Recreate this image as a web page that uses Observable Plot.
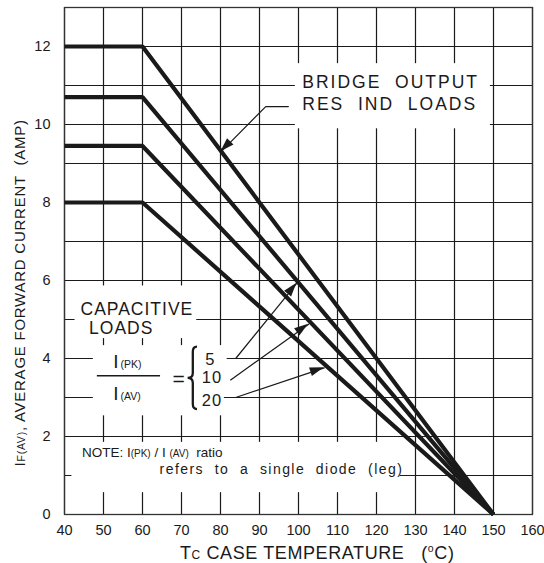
<!DOCTYPE html>
<html><head><meta charset="utf-8">
<script src="https://cdn.jsdelivr.net/npm/d3@7"></script>
<script src="https://cdn.jsdelivr.net/npm/@observablehq/plot@0.6"></script>
<style>
body{margin:0;background:#fff;}
#chart svg{display:block;}
#chart svg text{white-space:pre;}
#chart svg g[aria-label="text"] text{letter-spacing:1px;}
</style>
</head><body><div id="chart"></div>
<script>
// ---- data ----
const caseTemp = [40, 60, 150];            // Tc (°C) break points
const bridge   = [12.0, 12.0, 0];          // bridge output res/ind loads
const cap5     = [10.7, 10.7, 0];          // capacitive, Ipk/Iav = 5
const cap10    = [9.45, 9.45, 0];          // capacitive, Ipk/Iav = 10
const cap20    = [8.0, 8.0, 0];            // capacitive, Ipk/Iav = 20
const seriesNames = ["bridge", "cap5", "cap10", "cap20"];
const seriesValues = [bridge, cap5, cap10, cap20];

const xTicks = [40, 50, 60, 70, 80, 90, 100, 110, 120, 130, 140, 150, 160];
const yTicks = [0, 2, 4, 6, 8, 10, 12];
const yGrid  = [0, 1, 2, 3, 4, 5, 6, 7, 8, 9, 10, 11, 12, 13];

// annotation anchors (data units)
const bridgeArrow = [[97.4, 10.46], [91.6, 10.46], [80.1, 9.30]];
const ratio5Arrow = [[81.7, 4.0], [83.9, 4.0], [99.6, 5.93]];
const ratio10Arrow = [[82.6, 3.45], [102.6, 4.88]];
const ratio20Arrow = [[81.0, 3.0], [83.9, 3.0], [106.6, 3.76]];
const arrowList = [bridgeArrow, ratio5Arrow, ratio10Arrow, ratio20Arrow];

const boxX1 = [99.2, 42.7, 47.4, 41.9];
const boxX2 = [149.2, 73.9, 82.0, 126.1];
const boxY1 = [9.89, 4.51, 2.53, 0.56];
const boxY2 = [11.56, 5.86, 4.33, 1.85];

const ratioLabels = ["5", "10", "20"];
const ratioLabelX = [76.1, 75.2, 75.2];
const ratioLabelY = [3.84, 3.36, 2.79];

// ---- derived tables ----
const rows = seriesNames.flatMap((s, k) => caseTemp.map((t, i) => ({series: s, t, a: seriesValues[k][i]})));
const arrowRows = arrowList.flatMap((pts, k) => pts.map(([x, y]) => ({id: k, x, y})));
const boxes = boxX1.map((_, i) => ({x1: boxX1[i], x2: boxX2[i], y1: boxY1[i], y2: boxY2[i]}));
const ratios = ratioLabels.map((t, i) => ({t, x: ratioLabelX[i], y: ratioLabelY[i]}));

const ink = "#1a1a1a";
const font = "'Liberation Sans', Arial, Helvetica, sans-serif";

function richText(g, x, y, parts, opts = {}) {
  const t = g.append("text")
    .attr("x", x).attr("y", y)
    .attr("fill", ink)
    .attr("font-family", font)
    .attr("text-anchor", opts.anchor || "start")
    .attr("letter-spacing", opts.spacing != null ? opts.spacing : 0);
  if (opts.rotate) t.attr("transform", `rotate(${opts.rotate} ${x} ${y})`);
  for (const p of parts) {
    const s = t.append("tspan").attr("font-size", p.size).text(p.s);
    if (p.dy) s.attr("dy", p.dy);
    if (p.dx) s.attr("dx", p.dx);
  }
  return t;
}

function annotations(index, scales, values, dimensions) {
  const {x, y} = scales;
  const g = d3.create("svg:g");
  // filled arrow heads
  for (const pts of arrowList) {
    const p = pts[pts.length - 1], q = pts[pts.length - 2];
    const px = x(p[0]), py = y(p[1]), qx = x(q[0]), qy = y(q[1]);
    const dx = px - qx, dy = py - qy, len = Math.hypot(dx, dy);
    const ux = dx / len, uy = dy / len, L = 14, W = 4.5;
    const bx = px - ux * L, by = py - uy * L;
    g.append("path")
      .attr("d", `M${px},${py}L${bx - uy * W},${by + ux * W}L${bx + uy * W},${by - ux * W}Z`)
      .attr("fill", ink);
  }
  // curly brace
  const xl = x(71.7), xr = x(74.1), yt = y(4.29), yb = y(2.69), ym = y(3.49);
  const xm = (xl + xr) / 2 + 0.5, h = 5;
  g.append("path")
    .attr("d", `M${xr},${yt}Q${xm},${yt} ${xm},${yt + h}L${xm},${ym - h}Q${xm},${ym} ${xl},${ym}Q${xm},${ym} ${xm},${ym + h}L${xm},${yb - h}Q${xm},${yb} ${xr},${yb}`)
    .attr("fill", "none").attr("stroke", ink).attr("stroke-width", 2.3);
  // bridge label
  richText(g, x(101.1), y(10.915), [{s: "BRIDGE  OUTPUT", size: 17.5}], {spacing: 2});
  richText(g, x(101.1), y(10.35), [{s: "RES  IND  LOADS", size: 17.5}], {spacing: 2});
  // fraction I(PK) / I(AV)
  richText(g, x(52.6), y(3.75), [{s: "I", size: 19}, {s: "(PK)", size: 10.5, dx: 2}]);
  richText(g, x(52.6), y(2.915), [{s: "I", size: 19}, {s: "(AV)", size: 10.5, dx: 2}]);
  // note
  richText(g, x(44.6), y(1.46), [
    {s: "NOTE: I", size: 13.5}, {s: "(PK)", size: 10}, {s: " / I ", size: 13.5},
    {s: "(AV)", size: 10}, {s: "  ratio", size: 13.5}
  ], {spacing: 0});
  richText(g, x(64.5), y(1.036), [{s: "refers  to  a  single  diode  (leg)", size: 14}], {spacing: 1.45});
  // axis titles
  const hgt = dimensions.height;
  richText(g, x(70) - 1, hgt - 4, [
    {s: "T", size: 18}, {s: "C", size: 12}, {s: " CASE TEMPERATURE   (", size: 18},
    {s: "o", size: 10.5, dy: -7}, {s: "C)", size: 18, dy: 7}
  ], {spacing: 0.6});
  richText(g, 25, y(5.67), [
    {s: "I", size: 15}, {s: "F(AV)", size: 10.5}, {s: ", AVERAGE FORWARD CURRENT  (AMP)", size: 15}
  ], {anchor: "middle", rotate: -90, spacing: 0.75});
  return g.node();
}

const chart = Plot.plot({
  width: 544,
  height: 563,
  marginLeft: 64,
  marginRight: 12,
  marginTop: 7,
  marginBottom: 49,
  x: {domain: [40, 160]},
  y: {domain: [0, 13]},
  style: {fontFamily: font, fontSize: "14px", color: ink, background: "#fff"},
  marks: [
    Plot.ruleX(xTicks, {stroke: ink, strokeWidth: 1.2}),
    Plot.ruleY(yGrid, {stroke: ink, strokeWidth: 1.2}),
    Plot.rect(boxes, {x1: "x1", x2: "x2", y1: "y1", y2: "y2", fill: "white"}),
    Plot.frame({stroke: "#333", strokeWidth: 1.3}),
    Plot.line(rows, {x: "t", y: "a", z: "series", stroke: ink, strokeWidth: 4.2, strokeLinejoin: "miter", strokeLinecap: "butt"}),
    Plot.line(arrowRows, {x: "x", y: "y", z: "id", stroke: ink, strokeWidth: 1.2}),
    Plot.link([{x1: 48.3, x2: 64.5, y: 3.56}], {x1: "x1", x2: "x2", y1: "y", y2: "y", stroke: ink, strokeWidth: 1.5}),
    Plot.text(["CAPACITIVE", "LOADS"], {x: [44.1, 46.3], y: [5.11, 4.63], text: d => d, textAnchor: "start", lineAnchor: "bottom", fontSize: 17.5, fill: ink}),
    Plot.text(["="], {x: 69.4, y: 3.47, text: d => d, textAnchor: "middle", lineAnchor: "middle", fontSize: 21, fill: ink}),
    Plot.text(ratios, {x: "x", y: "y", text: "t", textAnchor: "start", lineAnchor: "bottom", fontSize: 16.5, fill: ink}),
    annotations,
    Plot.axisX({ticks: xTicks, tickSize: 0, tickPadding: 10, fontSize: 14.5, label: null}),
    Plot.axisY({ticks: yTicks, tickSize: 0, tickPadding: 14, fontSize: 14.5, label: null})
  ]
});
document.getElementById("chart").appendChild(chart);
</script>
</body></html>
